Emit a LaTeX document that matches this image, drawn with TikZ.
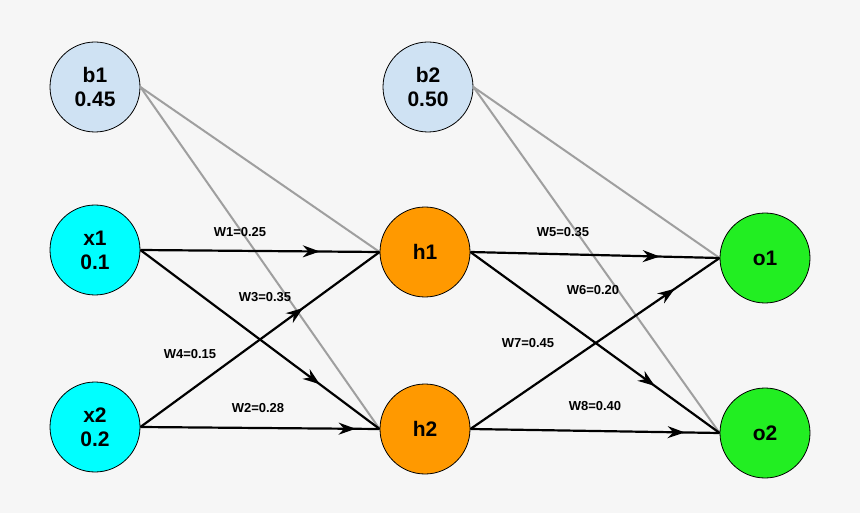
\documentclass[tikz,border=0pt]{standalone}
\usepackage{fontspec}
\setmainfont{Liberation Sans}
\usetikzlibrary{arrows.meta,decorations.markings}
\definecolor{bgc}{HTML}{F6F6F6}
\definecolor{biasc}{HTML}{CFE2F3}
\definecolor{inpc}{HTML}{00FFFF}
\definecolor{hidc}{HTML}{FF9900}
\definecolor{outc}{HTML}{22EE22}
\begin{document}
\begin{tikzpicture}[x=1pt,y=-1pt,
  neuron/.style={circle,draw=black,line width=0.8pt,minimum size=90pt,inner sep=0pt,align=center,font=\fontsize{21}{24}\selectfont\bfseries},
  bias/.style={neuron,fill=biasc},
  inp/.style={neuron,fill=inpc},
  hid/.style={neuron,fill=hidc},
  outn/.style={neuron,fill=outc},
  w/.style={draw=black,line width=2.2pt,postaction={decorate},decoration={markings,mark=at position #1 with {\arrow{Stealth[length=17pt,width=12pt]}}}},
  g/.style={draw=gray!75,line width=2pt},
  lab/.style={font=\fontsize{13}{15}\selectfont\bfseries,inner sep=1pt}]
\useasboundingbox[fill=bgc] (0,0) rectangle (860,513);
\node[bias] (b1) at (95,87) {b1\\0.45};
\node[bias] (b2) at (428,87) {b2\\0.50};
\node[inp] (x1) at (95,250) {x1\\0.1};
\node[inp] (x2) at (95,427) {x2\\0.2};
\node[hid] (h1) at (425,252) {h1};
\node[hid] (h2) at (425,429) {h2};
\node[outn] (o1) at (765,258) {o1};
\node[outn] (o2) at (765,433) {o2};
\path[g] (b1.east) -- (h1.west);
\path[g] (b1.east) -- (h2.west);
\path[g] (b2.east) -- (o1.west);
\path[g] (b2.east) -- (o2.west);
\path[w=0.75] (x1.east) -- (h1.west);
\path[w=0.75] (x1.east) -- (h2.west);
\path[w=0.68] (x2.east) -- (h1.west);
\path[w=0.9] (x2.east) -- (h2.west);
\path[w=0.76] (h1.east) -- (o1.west);
\path[w=0.74] (h1.east) -- (o2.west);
\path[w=0.82] (h2.east) -- (o1.west);
\path[w=0.86] (h2.east) -- (o2.west);
\node[lab] (l1) at (240,232) {W1=0.25};
\node[lab] (l3) at (265,297) {W3=0.35};
\node[lab] (l4) at (190,354) {W4=0.15};
\node[lab] (l2) at (258,408) {W2=0.28};
\node[lab] (l5) at (563,232) {W5=0.35};
\node[lab] (l6) at (593,290) {W6=0.20};
\node[lab] (l7) at (528,343) {W7=0.45};
\node[lab] (l8) at (595,406) {W8=0.40};
\end{tikzpicture}
\end{document}
